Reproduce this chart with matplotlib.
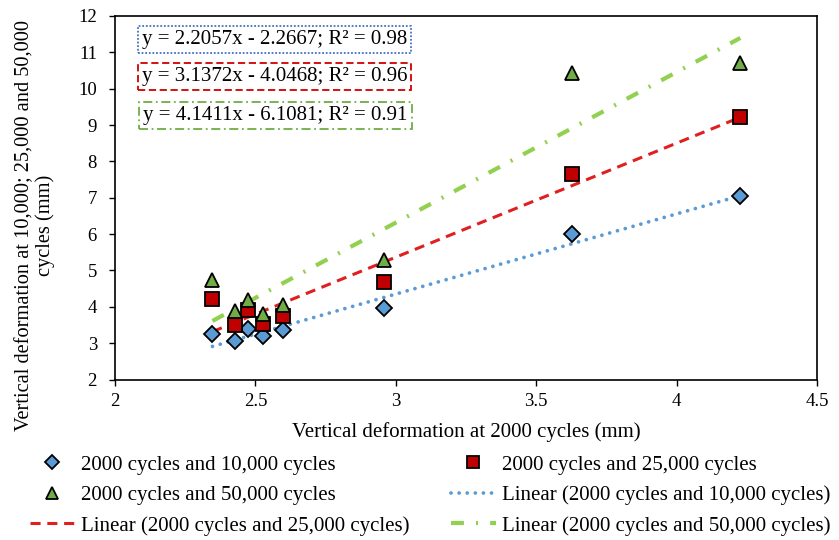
import matplotlib
matplotlib.use("Agg")
import matplotlib.pyplot as plt
import numpy as np

plt.rcParams['font.family'] = ['Liberation Serif', 'DejaVu Serif']

x_2000 = [2.347, 2.427, 2.475, 2.527, 2.598, 2.959, 3.626, 4.227]
y_10000 = [3.24, 3.07, 3.39, 3.19, 3.35, 3.96, 6.01, 7.04]
y_25000 = [4.22, 3.51, 3.90, 3.53, 3.76, 4.67, 7.66, 9.23]
y_50000 = [4.75, 3.88, 4.20, 3.81, 4.06, 5.28, 10.43, 10.72]

fit_slopes = [2.2057, 3.1372, 4.1411]
fit_intercepts = [-2.2667, -4.0468, -6.1081]
fit_r2 = [0.98, 0.96, 0.91]

series_labels = ["2000 cycles and 10,000 cycles",
                 "2000 cycles and 25,000 cycles",
                 "2000 cycles and 50,000 cycles"]

W, H = 839, 540
fig = plt.figure(figsize=(W/100, H/100), dpi=100)
ax = fig.add_axes([115/W, 1-379.5/H, 702/W, 363.5/H])

FS_T = 13.5
FS = 15
mfc = ['#5B9BD5', '#C00000', '#70AD47']
line_cols = ['#5B9BD5', '#E02020', '#92D050']
markers = ['D', 's', '^']
msizes = [8, 9.5, 10.5]
ys = [y_10000, y_25000, y_50000]
lws = [2.7, 2.2, 3.0]
styles = [(0, (0.01, 2.15)), (0, (3.3, 2.2)), (0, (3.1, 2.9, 0.5, 2.9))]
caps = ['round', 'butt', 'butt']

xs = np.array(x_2000)
xl = np.array([xs.min(), xs.max()])
line_handles = []
for i in range(3):
    yl = fit_slopes[i] * xl + fit_intercepts[i]
    ln, = ax.plot(xl, yl, color=line_cols[i], lw=lws[i], linestyle=styles[i],
                  dash_capstyle=caps[i], zorder=2)
    line_handles.append(ln)

pt_handles = []
for i in range(3):
    h, = ax.plot(x_2000, ys[i], linestyle='none', marker=markers[i], ms=msizes[i],
                 markerfacecolor=mfc[i], markeredgecolor='black', markeredgewidth=1.3,
                 zorder=3)
    pt_handles.append(h)

ax.set_xlim(2, 4.5)
ax.set_ylim(2, 12)
ax.set_xticks([2, 2.5, 3, 3.5, 4, 4.5])
ax.set_xticklabels(['2', '2.5', '3', '3.5', '4', '4.5'])
ax.set_yticks(range(2, 13))
ax.tick_params(direction='out', length=4, width=1, labelsize=FS_T, color='black')
ax.tick_params(axis='y', pad=9)
ax.tick_params(axis='x', pad=6)
for s in ax.spines.values():
    s.set_linewidth(1.2)
    s.set_color('black')

ax.set_xlabel("Vertical deformation at 2000 cycles (mm)", fontsize=FS, labelpad=8.5)
fig.text(35/W, 1-225/H, "Vertical deformation at 10,000; 25,000 and 50,000\ncycles (mm)",
         fontsize=14.7, rotation=90, ha='center', va='center', multialignment='center',
         linespacing=1.08)

# equation boxes
box_y = [39.5, 76.7, 115.3]
box_x = [274.5, 274.5, 275.5]
box_ls = [(0, (1, 1)), (0, (4, 2)), (0, (5, 2, 1, 2))]
box_cols = ['#4472C4', '#D00000', '#70AD47']
for i in range(3):
    txt = f"y = {fit_slopes[i]:.4f}x - {abs(fit_intercepts[i]):.4f}; R² = {fit_r2[i]:.2f}"
    fig.text(box_x[i]/W, 1-box_y[i]/H, txt, fontsize=FS, ha='center', va='center',
             bbox=dict(boxstyle='square,pad=0.2', facecolor='white',
                       edgecolor=box_cols[i], linestyle=box_ls[i], linewidth=1.3))

handles = [pt_handles[0], pt_handles[2], line_handles[1],
           pt_handles[1], line_handles[0], line_handles[2]]
labels = [series_labels[0], series_labels[2], "Linear (" + series_labels[1] + ")",
          series_labels[1], "Linear (" + series_labels[0] + ")",
          "Linear (" + series_labels[2] + ")"]
fig.legend(handles, labels, ncol=2, loc='upper left',
           bbox_to_anchor=(30/W, 1-455/H), frameon=False, fontsize=FS,
           handlelength=2.15, handletextpad=0.3, columnspacing=1.98,
           labelspacing=0.52, borderaxespad=0, borderpad=0, markerscale=0.85)

fig.savefig("out.png", dpi=100)
